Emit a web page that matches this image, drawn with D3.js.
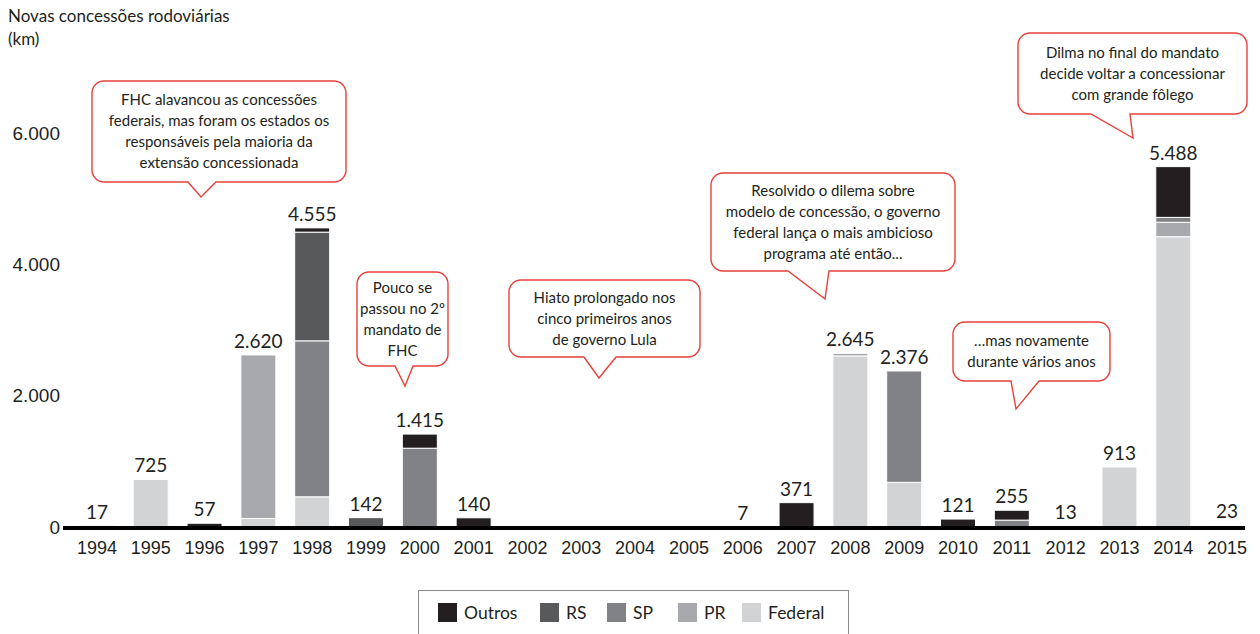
<!DOCTYPE html>
<html>
<head>
<meta charset="utf-8">
<script src="https://cdnjs.cloudflare.com/ajax/libs/d3/7.8.5/d3.min.js"></script>
<style>
  html, body { margin: 0; padding: 0; background: #fff; }
  svg { display: block; font-family: Lato, "Open Sans", sans-serif; }
</style>
</head>
<body>
<svg id="chart" width="1260" height="634"></svg>
<script>
// Years of new road concessions
const years = ["1994","1995","1996","1997","1998","1999","2000","2001","2002","2003","2004",
               "2005","2006","2007","2008","2009","2010","2011","2012","2013","2014","2015"];

// Kilometres granted per year, split by grantor
const federal = [0, 725, 0, 130, 460, 0, 0, 0, 0, 0, 0, 0, 0, 0, 2605, 680, 0, 0, 0, 913, 4420, 0];
const pr      = [0, 0, 0, 2490, 0, 0, 0, 0, 0, 0, 0, 0, 0, 0, 40, 0, 0, 0, 0, 0, 220, 0];
const sp      = [0, 0, 0, 0, 2375, 0, 1200, 0, 0, 0, 0, 0, 0, 0, 0, 1696, 0, 105, 0, 0, 75, 0];
const rs      = [0, 0, 0, 0, 1655, 142, 0, 0, 0, 0, 0, 0, 0, 0, 0, 0, 0, 0, 0, 0, 0, 0];
const outros  = [17, 0, 57, 0, 65, 0, 215, 140, 0, 0, 0, 0, 7, 371, 0, 0, 121, 150, 13, 0, 773, 23];

// Stack order, bottom to top
const seriesKeys   = ["Federal", "PR", "SP", "RS", "Outros"];
const seriesValues = { Federal: federal, PR: pr, SP: sp, RS: rs, Outros: outros };
const seriesColors = { Outros: "#231f20", RS: "#58595b", SP: "#808285", PR: "#a7a9ac", Federal: "#d1d3d4" };
const legendOrder  = ["Outros", "RS", "SP", "PR", "Federal"];

const yTicks = [0, 2000, 4000, 6000];
const titleLines = ["Novas concessões rodoviárias", "(km)"];

// Speech-bubble annotations
const notes = [
  ["FHC alavancou as concessões", "federais, mas foram os estados os", "responsáveis pela maioria da", "extensão concessionada"],
  ["Pouco se", "passou no 2º", "mandato de", "FHC"],
  ["Hiato prolongado nos", "cinco primeiros anos", "de governo Lula"],
  ["Resolvido o dilema sobre", "modelo de concessão, o governo", "federal lança o mais ambicioso", "programa até então..."],
  ["…mas novamente", "durante vários anos"],
  ["Dilma no final do mandato", "decide voltar a concessionar", "com grande fôlego"]
];

// Bubble geometry: box, tail base on the bottom edge, tail tip
const noteLayout = [
  { x: 92,   y: 81,  w: 254, h: 101, t0: 188,  t1: 216,  tip: [201, 197] },
  { x: 357,  y: 272, w: 91,  h: 94,  t0: 395,  t1: 413,  tip: [405, 386] },
  { x: 509,  y: 280, w: 191, h: 77,  t0: 584,  t1: 616,  tip: [599, 378] },
  { x: 711,  y: 173, w: 244, h: 98,  t0: 788,  t1: 829,  tip: [825, 299] },
  { x: 953,  y: 322, w: 157, h: 59,  t0: 1011, t1: 1039, tip: [1016, 409] },
  { x: 1018, y: 33,  w: 229, h: 81,  t0: 1091, t1: 1130, tip: [1133, 138] }
];

const svg = d3.select("#chart");
const fmt = d3.formatLocale({ decimal: ",", thousands: ".", grouping: [3], currency: ["R$", ""] }).format(",d");

const x = d3.scaleBand().domain(years).range([70, 1254]).paddingInner(0.35).paddingOuter(0.175);
const y = d3.scaleLinear().domain([0, 6000]).range([527, 133]);

const rows = years.map((yr, i) => {
  const r = { year: yr };
  seriesKeys.forEach(k => r[k] = seriesValues[k][i]);
  return r;
});
const stacked = d3.stack().keys(seriesKeys)(rows);

// Stacked bars
svg.append("g").selectAll("g")
  .data(stacked)
  .join("g")
  .attr("fill", d => seriesColors[d.key])
  .selectAll("rect")
  .data(d => d.filter(s => s[1] - s[0] > 0))
  .join("rect")
  .attr("x", d => x(d.data.year))
  .attr("width", x.bandwidth())
  .attr("y", d => y(d[1]))
  .attr("height", d => y(d[0]) - y(d[1]))
  .attr("stroke", "#fff")
  .attr("stroke-width", 1);

// Totals above the bars
const totals = years.map((yr, i) => ({ year: yr, total: d3.sum(seriesKeys, k => seriesValues[k][i]) }));
svg.append("g").selectAll("text")
  .data(totals.filter(d => d.total > 0))
  .join("text")
  .attr("x", d => x(d.year) + x.bandwidth() / 2)
  .attr("y", d => y(d.total) - 7)
  .attr("text-anchor", "middle")
  .attr("font-size", 19)
  .attr("fill", "#231f20")
  .text(d => fmt(d.total));

// Baseline
svg.append("line")
  .attr("x1", 63).attr("x2", 1245)
  .attr("y1", y(0) + 1).attr("y2", y(0) + 1)
  .attr("stroke", "#000").attr("stroke-width", 4);

// X axis (year labels)
const xAxis = svg.append("g")
  .attr("transform", `translate(0,${y(0) + 3})`)
  .call(d3.axisBottom(x).tickSize(0).tickPadding(11));
xAxis.select(".domain").remove();
xAxis.selectAll("text").attr("font-size", 18).attr("fill", "#231f20").attr("font-family", null);

// Y axis (tick labels only)
const yAxis = svg.append("g")
  .attr("transform", "translate(60,0)")
  .call(d3.axisLeft(y).tickValues(yTicks).tickFormat(fmt).tickSize(0).tickPadding(0));
yAxis.select(".domain").remove();
yAxis.selectAll("text").attr("font-size", 19).attr("fill", "#231f20").attr("font-family", null);

// Axis title
svg.append("g").selectAll("text")
  .data(titleLines)
  .join("text")
  .attr("x", 8)
  .attr("y", (d, i) => 22 + i * 23)
  .attr("font-size", 17)
  .attr("fill", "#231f20")
  .text(d => d);

// Speech bubbles
function bubblePath(b) {
  const r = 12, x0 = b.x, y0 = b.y, x1 = b.x + b.w, y1 = b.y + b.h;
  const p = d3.path();
  p.moveTo(x0 + r, y0);
  p.lineTo(x1 - r, y0);
  p.arcTo(x1, y0, x1, y0 + r, r);
  p.lineTo(x1, y1 - r);
  p.arcTo(x1, y1, x1 - r, y1, r);
  p.lineTo(b.t1, y1);
  p.lineTo(b.tip[0], b.tip[1]);
  p.lineTo(b.t0, y1);
  p.lineTo(x0 + r, y1);
  p.arcTo(x0, y1, x0, y1 - r, r);
  p.lineTo(x0, y0 + r);
  p.arcTo(x0, y0, x0 + r, y0, r);
  p.closePath();
  return p.toString();
}

const bubbles = svg.append("g").selectAll("g")
  .data(notes.map((lines, i) => ({ lines, box: noteLayout[i] })))
  .join("g");

bubbles.append("path")
  .attr("d", d => bubblePath(d.box))
  .attr("fill", "#fff")
  .attr("stroke", "#e8403a")
  .attr("stroke-width", 1.4);

bubbles.each(function(d) {
  const g = d3.select(this);
  const lh = 21;
  const cx = d.box.x + d.box.w / 2;
  const top = d.box.y + d.box.h / 2 - (d.lines.length - 1) * lh / 2 + 5;
  g.selectAll("text")
    .data(d.lines)
    .join("text")
    .attr("x", cx)
    .attr("y", (t, i) => top + i * lh)
    .attr("text-anchor", "middle")
    .attr("font-size", 15)
    .attr("fill", "#231f20")
    .text(t => t);
});

// Legend
const legend = svg.append("g");
legend.append("rect")
  .attr("x", 418.5).attr("y", 590.5)
  .attr("width", 430).attr("height", 60)
  .attr("fill", "none").attr("stroke", "#8a8a8a").attr("stroke-width", 1);

const legendX = { Outros: 438, RS: 540, SP: 607, PR: 678, Federal: 742 };
const items = legend.selectAll("g.item")
  .data(legendOrder)
  .join("g")
  .attr("class", "item")
  .attr("transform", d => `translate(${legendX[d]},603)`);
items.append("rect")
  .attr("width", 19).attr("height", 19)
  .attr("fill", d => seriesColors[d]);
items.append("text")
  .attr("x", 26).attr("y", 16)
  .attr("font-size", 17.5)
  .attr("fill", "#231f20")
  .text(d => d);
</script>
</body>
</html>
